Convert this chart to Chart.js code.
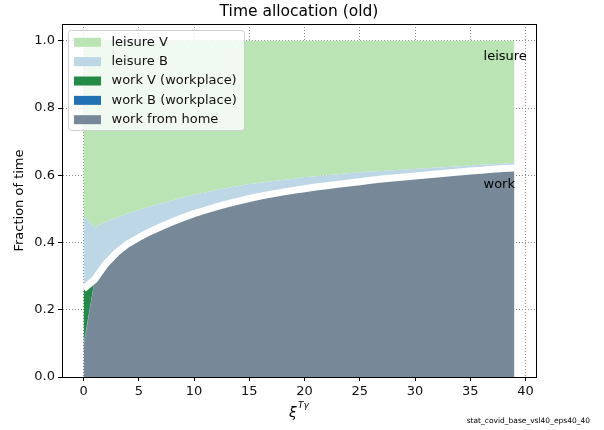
<!DOCTYPE html>
<html>
<head>
<meta charset="utf-8">
<script src="https://cdn.jsdelivr.net/npm/chart.js@4/dist/chart.umd.min.js"></script>
<style>
  html, body { margin: 0; padding: 0; background: #fff; }
  #wrap { width: 604px; height: 430px; }
</style>
</head>
<body>
<div id="wrap"><canvas id="timeChart" width="604" height="430"></canvas></div>
<script>
// x values (xi^{T gamma})
const xs = [0,1,2,3,4,5,6,7,8,9,10,11,12,13,14,15,16,17,18,19,20,21,22,23,24,25,26,27,28,29,30,31,32,33,34,35,36,37,38,39];

// stacked shares, bottom to top
const workFromHome = [0.090, 0.286, 0.336, 0.370, 0.396, 0.415, 0.432, 0.447, 0.461, 0.474,
                      0.486, 0.496, 0.506, 0.515, 0.523, 0.531, 0.538, 0.544, 0.550, 0.555,
                      0.560, 0.565, 0.569, 0.573, 0.577, 0.581, 0.585, 0.589, 0.592, 0.595,
                      0.598, 0.601, 0.604, 0.607, 0.610, 0.613, 0.615, 0.618, 0.620, 0.622];
const workB = [0.008, 0, 0, 0, 0, 0, 0, 0, 0, 0, 0, 0, 0, 0, 0, 0, 0, 0, 0, 0,
               0, 0, 0, 0, 0, 0, 0, 0, 0, 0, 0, 0, 0, 0, 0, 0, 0, 0, 0, 0];
const workV = [0.164, 0.004, 0, 0, 0, 0, 0, 0, 0, 0, 0, 0, 0, 0, 0, 0, 0, 0, 0, 0,
               0, 0, 0, 0, 0, 0, 0, 0, 0, 0, 0, 0, 0, 0, 0, 0, 0, 0, 0, 0];
const leisureB = [0.218, 0.155, 0.126, 0.104, 0.090, 0.082, 0.075, 0.069, 0.064, 0.060,
                  0.056, 0.053, 0.050, 0.047, 0.045, 0.043, 0.040, 0.038, 0.036, 0.035,
                  0.034, 0.032, 0.031, 0.030, 0.029, 0.028, 0.026, 0.024, 0.023, 0.022,
                  0.021, 0.020, 0.019, 0.018, 0.017, 0.016, 0.016, 0.015, 0.015, 0.015];
const leisureV = [0.520, 0.555, 0.538, 0.526, 0.514, 0.503, 0.493, 0.484, 0.475, 0.466,
                  0.458, 0.451, 0.444, 0.438, 0.432, 0.426, 0.422, 0.418, 0.414, 0.410,
                  0.406, 0.403, 0.400, 0.397, 0.394, 0.391, 0.389, 0.387, 0.385, 0.383,
                  0.381, 0.379, 0.377, 0.375, 0.373, 0.371, 0.369, 0.367, 0.365, 0.363];

const xTicks = [0, 5, 10, 15, 20, 25, 30, 35, 40];
const yTicks = [0, 0.2, 0.4, 0.6, 0.8, 1.0];

const legendLabels = ['leisure V', 'leisure B', 'work V (workplace)', 'work B (workplace)', 'work from home'];
const legendColors = ['#bae4b3', '#bdd7e7', '#238b45', '#2171b5', '#778899'];

const FONT = 'DejaVu Sans';

// total work = top of the work layers, white separator line sits there
const workTotal = xs.map((x, i) => workFromHome[i] + workB[i] + workV[i]);

function pts(arr) {
    return xs.map((x, i) => ({ x: x, y: arr[i] }));
}

function area(label, arr, color, fill) {
    return {
        label: label,
        data: pts(arr),
        backgroundColor: color,
        borderColor: color,
        borderWidth: 0,
        pointRadius: 0,
        fill: fill,
        stack: 'time',
        tension: 0
    };
}

// draws the box, title, labels, legend and notes like the matplotlib figure
const decorPlugin = {
    id: 'decor',
    afterDatasetsDraw(chart) {
        const { ctx, scales: { x, y } } = chart;
        ctx.save();
        ctx.fillStyle = '#000';
        ctx.font = '13px ' + FONT;
        ctx.textAlign = 'left';
        ctx.textBaseline = 'middle';
        ctx.fillText('leisure', x.getPixelForValue(36.2), y.getPixelForValue(0.952));
        ctx.fillText('work', x.getPixelForValue(36.2), y.getPixelForValue(0.571));
        ctx.restore();
    },
    afterDraw(chart) {
        const { ctx, chartArea: a } = chart;
        ctx.save();

        // frame
        ctx.strokeStyle = '#000';
        ctx.lineWidth = 1;
        ctx.strokeRect(Math.round(a.left) + 0.5, Math.round(a.top) + 0.5,
                       Math.round(a.right - a.left), Math.round(a.bottom - a.top));

        // title
        ctx.fillStyle = '#000';
        ctx.textAlign = 'center';
        ctx.textBaseline = 'middle';
        ctx.font = '15.5px ' + FONT;
        ctx.fillText('Time allocation (old)', (a.left + a.right) / 2, 12);

        // y title
        ctx.font = '13px ' + FONT;
        ctx.save();
        ctx.translate(20, (a.top + a.bottom) / 2);
        ctx.rotate(-Math.PI / 2);
        ctx.fillText('Fraction of time', 0, 0);
        ctx.restore();

        // x title: xi^{T gamma}
        ctx.textAlign = 'left';
        ctx.font = 'italic 14px ' + FONT;
        const cx = (a.left + a.right) / 2;
        ctx.fillText('ξ', cx - 10, 413);
        ctx.font = 'italic 9px ' + FONT;
        ctx.fillText('Tγ', cx - 1, 406);

        // footnote
        ctx.textAlign = 'right';
        ctx.font = '7.5px ' + FONT;
        ctx.fillText('stat_covid_base_vsl40_eps40_40', 590, 421);

        // legend box
        const bx = 68.5, by = 30.5, bw = 176, bh = 100, r = 3;
        ctx.beginPath();
        ctx.moveTo(bx + r, by);
        ctx.arcTo(bx + bw, by, bx + bw, by + bh, r);
        ctx.arcTo(bx + bw, by + bh, bx, by + bh, r);
        ctx.arcTo(bx, by + bh, bx, by, r);
        ctx.arcTo(bx, by, bx + bw, by, r);
        ctx.closePath();
        ctx.fillStyle = 'rgba(255,255,255,0.8)';
        ctx.fill();
        ctx.strokeStyle = '#d0d0d0';
        ctx.stroke();

        ctx.font = '13px ' + FONT;
        ctx.textAlign = 'left';
        ctx.textBaseline = 'middle';
        legendLabels.forEach((lab, i) => {
            const cy = 42.3 + i * 19.35;
            ctx.fillStyle = legendColors[i];
            ctx.fillRect(74, cy - 4.5, 27, 9);
            ctx.fillStyle = '#111';
            ctx.fillText(lab, 111.5, cy);
        });

        ctx.restore();
    }
};

const gridOpts = {
    color: '#8a8a8a',
    tickColor: '#000',
    tickLength: 4,
    tickBorderDash: []
};

new Chart(document.getElementById('timeChart').getContext('2d'), {
    type: 'line',
    data: {
        datasets: [
            area('work from home', workFromHome, '#778899', 'origin'),
            area('work B (workplace)', workB, '#2171b5', '-1'),
            area('work V (workplace)', workV, '#238b45', '-1'),
            area('leisure B', leisureB, '#bdd7e7', '-1'),
            area('leisure V', leisureV, '#bae4b3', '-1'),
            {
                label: 'separator',
                data: pts(workTotal),
                borderColor: '#ffffff',
                borderWidth: 7,
                pointRadius: 0,
                fill: false,
                stack: 'line',
                order: -1,
                tension: 0
            }
        ]
    },
    options: {
        responsive: false,
        animation: false,
        devicePixelRatio: 1,
        layout: { padding: { top: 24, right: 68, left: 0, bottom: 0 } },
        plugins: {
            legend: { display: false },
            title: { display: false },
            tooltip: { enabled: false }
        },
        scales: {
            x: {
                type: 'linear',
                min: -1.95,
                max: 40.95,
                z: 1,
                afterBuildTicks: (axis) => { axis.ticks = xTicks.map(v => ({ value: v })); },
                afterFit: (axis) => { axis.height = 53; },
                grid: gridOpts,
                border: { display: true, color: '#000', dash: [1, 2] },
                ticks: {
                    color: '#111',
                    font: { family: FONT, size: 13 },
                    padding: 3,
                    maxRotation: 0,
                    callback: (v) => String(v)
                }
            },
            y: {
                type: 'linear',
                stacked: true,
                min: 0,
                max: 1.05,
                z: 1,
                afterBuildTicks: (axis) => { axis.ticks = yTicks.map(v => ({ value: v })); },
                afterFit: (axis) => { axis.width = 62; },
                grid: gridOpts,
                border: { display: true, color: '#000', dash: [1, 2] },
                ticks: {
                    color: '#111',
                    font: { family: FONT, size: 13 },
                    padding: 3,
                    callback: (v) => v.toFixed(1)
                }
            }
        }
    },
    plugins: [decorPlugin]
});
</script>
</body>
</html>
